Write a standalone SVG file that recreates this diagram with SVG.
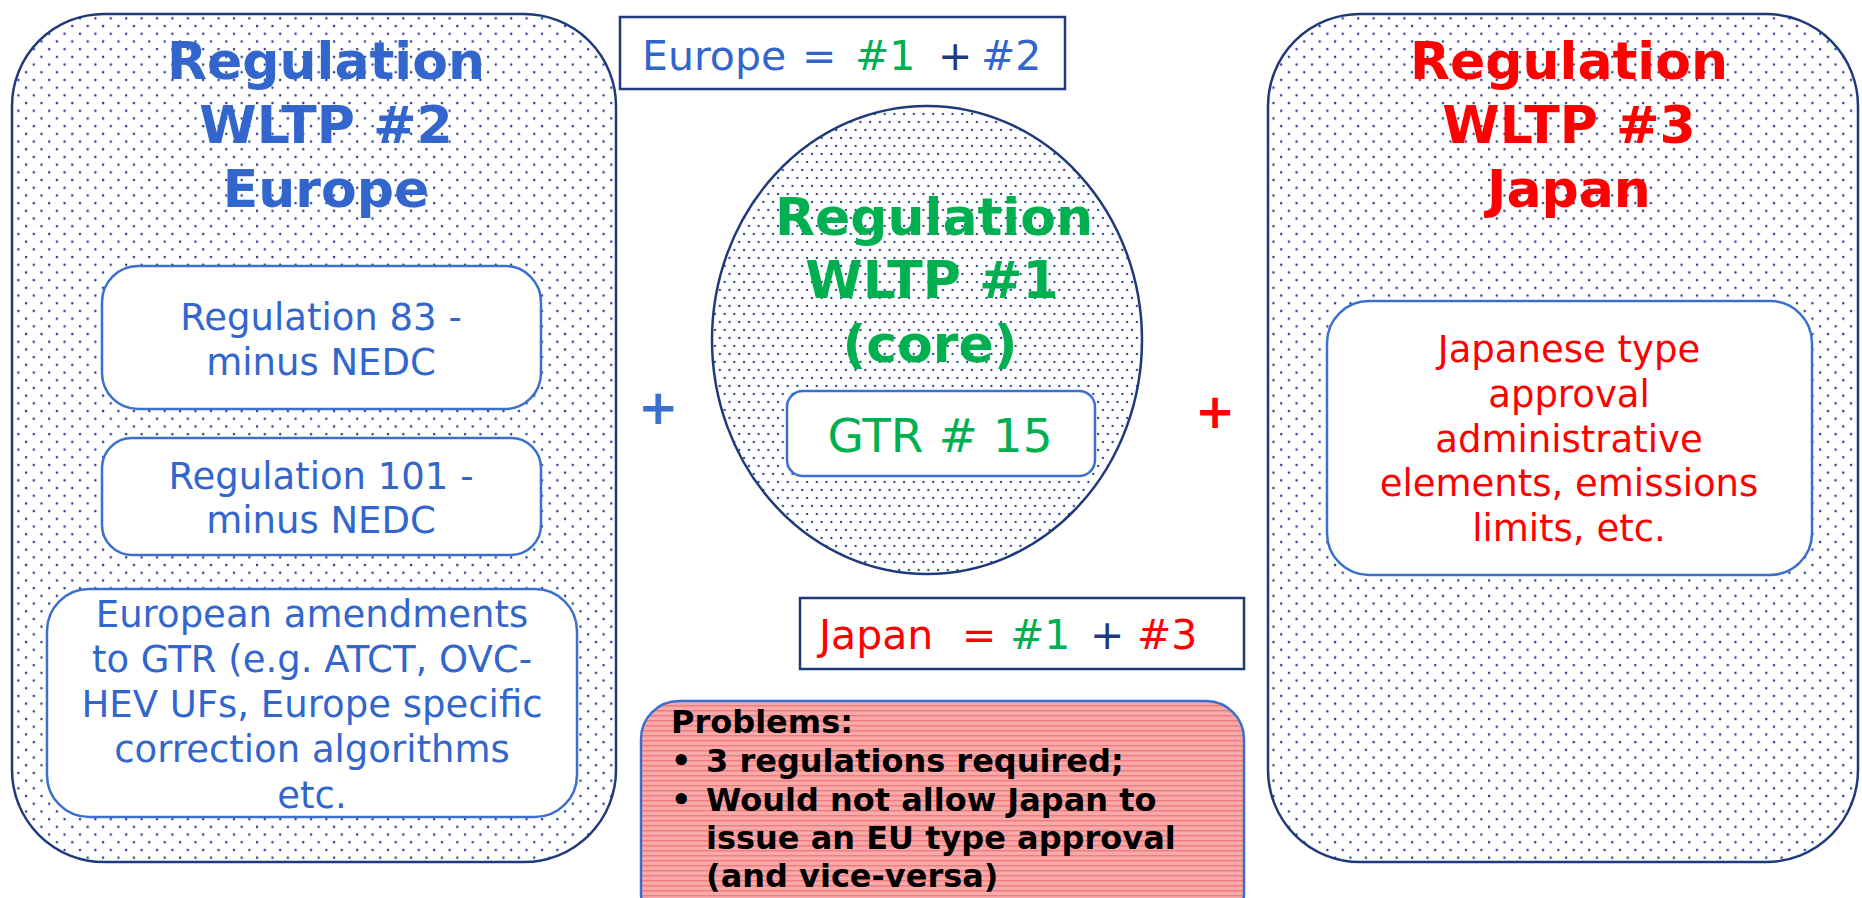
<svg xmlns="http://www.w3.org/2000/svg" width="1862" height="898" viewBox="0 0 1862 898">
<style>
.big{stroke:#1F3A7A;stroke-width:2.5}
.inner{fill:#fff;stroke:#3A6FD0;stroke-width:2.5}
.eqbox{fill:#fff;stroke:#1F3A7A;stroke-width:2.5}
.title{font-family:"DejaVu Sans",sans-serif;font-weight:bold;font-size:52px;text-anchor:middle}
.body{font-family:"DejaVu Sans",sans-serif;font-size:37px;text-anchor:middle}
.eq{font-family:"DejaVu Sans",sans-serif;font-size:41px}
.prob{font-family:"DejaVu Sans",sans-serif;font-weight:bold;font-size:32px;fill:#000}
.blue{fill:#3366CC}.green{fill:#00B050}.red{fill:#FF0000}.navy{fill:#1F3A7A}
</style>
<defs>
<pattern id="dots" patternUnits="userSpaceOnUse" width="15.4" height="15.4">
<rect width="15.4" height="15.4" fill="#fff"/>
<circle cx="3" cy="3" r="1.25" fill="#27408A"/>
<circle cx="10.7" cy="10.7" r="1.25" fill="#27408A"/>
</pattern>
<pattern id="fdots" patternUnits="userSpaceOnUse" width="9.7" height="16">
<rect width="9.7" height="16" fill="#fff"/>
<circle cx="2" cy="2" r="1.15" fill="#27408A"/>
<circle cx="6.85" cy="10" r="1.15" fill="#27408A"/>
</pattern>
<pattern id="stripes" patternUnits="userSpaceOnUse" width="10" height="5">
<rect width="10" height="5" fill="#F8AAAA"/>
<rect y="0" width="10" height="1.5" fill="#F07E7E"/>
</pattern>
</defs>

<g id="europe-reg">
<rect class="big" x="12" y="14" width="604" height="848" rx="92" fill="url(#dots)"/>
<text class="title blue" x="326" y="79">Regulation</text>
<text class="title blue" x="326" y="143">WLTP #2</text>
<text class="title blue" x="326" y="207">Europe</text>
</g>

<g id="reg83">
<rect class="inner" x="102" y="266" width="439" height="143" rx="36"/>
<text class="body blue" x="321" y="330">Regulation 83 -</text>
<text class="body blue" x="321" y="375">minus NEDC</text>
</g>

<g id="reg101">
<rect class="inner" x="102" y="438" width="439" height="117" rx="30"/>
<text class="body blue" x="321" y="489">Regulation 101 -</text>
<text class="body blue" x="321" y="533">minus NEDC</text>
</g>

<g id="eu-amend">
<rect class="inner" x="47" y="589" width="530" height="228" rx="42"/>
<text class="body blue" x="312" y="627">European amendments</text>
<text class="body blue" x="312" y="672">to GTR (e.g. ATCT, OVC-</text>
<text class="body blue" x="312" y="717">HEV UFs, Europe specific</text>
<text class="body blue" x="312" y="762">correction algorithms</text>
<text class="body blue" x="312" y="808">etc.</text>
</g>

<g id="europe-eq">
<rect class="eqbox" x="620" y="17" width="445" height="72"/>
<text class="eq" y="70"><tspan class="blue" x="642">Europe</tspan><tspan class="blue" x="802">=</tspan><tspan class="green" x="855">#1</tspan><tspan class="navy" x="938">+</tspan><tspan class="blue" x="981">#2</tspan></text>
</g>

<g id="core-reg">
<ellipse class="big" cx="927" cy="340" rx="215" ry="234" fill="url(#fdots)"/>
<text class="title green" x="934" y="235">Regulation</text>
<text class="title green" x="932" y="298">WLTP #1</text>
<text class="title green" x="930" y="362">(core)</text>
</g>

<g id="gtr15">
<rect class="inner" x="787" y="391" width="308" height="85" rx="16"/>
<text class="green" x="940" y="452" font-family="DejaVu Sans, sans-serif" font-size="47" text-anchor="middle">GTR # 15</text>
</g>

<g id="plus-blue">
<text x="658" y="424" font-family="DejaVu Sans, sans-serif" font-weight="bold" font-size="48" text-anchor="middle" fill="#3A6FD0">+</text>
</g>

<g id="plus-red">
<text x="1215" y="428" font-family="DejaVu Sans, sans-serif" font-weight="bold" font-size="48" text-anchor="middle" fill="#FF0000">+</text>
</g>

<g id="japan-reg">
<rect class="big" x="1268" y="14" width="590" height="848" rx="92" fill="url(#dots)"/>
<text class="title red" x="1569" y="79">Regulation</text>
<text class="title red" x="1569" y="143">WLTP #3</text>
<text class="title red" x="1569" y="207">Japan</text>
</g>

<g id="japan-admin">
<rect class="inner" x="1327" y="301" width="485" height="274" rx="42"/>
<text class="body red" x="1569" y="362">Japanese type</text>
<text class="body red" x="1569" y="407">approval</text>
<text class="body red" x="1569" y="452">administrative</text>
<text class="body red" x="1569" y="496">elements, emissions</text>
<text class="body red" x="1569" y="541">limits, etc.</text>
</g>

<g id="japan-eq">
<rect class="eqbox" x="800" y="598" width="444" height="71"/>
<text class="eq" y="649"><tspan class="red" x="819">Japan</tspan><tspan class="red" x="962">=</tspan><tspan class="green" x="1010">#1</tspan><tspan class="navy" x="1090">+</tspan><tspan class="red" x="1137">#3</tspan></text>
</g>

<g id="problems">
<rect x="641" y="701" width="603" height="230" rx="38" fill="url(#stripes)" stroke="#3A6FD0" stroke-width="2.5"/>
<text class="prob" x="671" y="733">Problems:</text>
<text class="prob" x="671" y="772">•</text>
<text class="prob" x="706" y="772">3 regulations required;</text>
<text class="prob" x="671" y="811">•</text>
<text class="prob" x="706" y="811">Would not allow Japan to</text>
<text class="prob" x="706" y="849">issue an EU type approval</text>
<text class="prob" x="706" y="887">(and vice-versa)</text>
</g>

<g id="connectors"></g>
</svg>
